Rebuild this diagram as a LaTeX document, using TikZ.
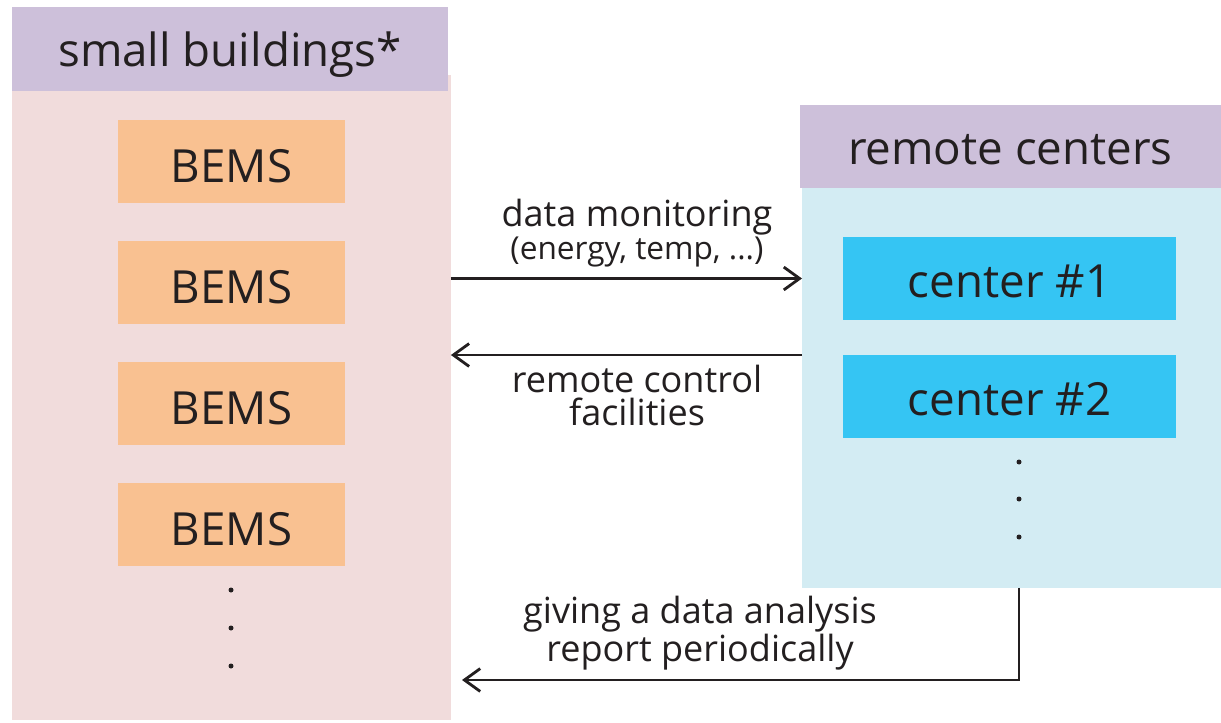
\documentclass[tikz,border=0pt]{standalone}
\usepackage{fontspec}
\setmainfont{Open Sans}
\usetikzlibrary{arrows.meta}

\definecolor{hdrpurple}{RGB}{205,192,218}
\definecolor{bldgpink}{RGB}{241,220,220}
\definecolor{bemsorange}{RGB}{249,193,145}
\definecolor{rcblue}{RGB}{211,236,243}
\definecolor{centercyan}{RGB}{53,197,243}
\definecolor{ink}{RGB}{35,31,32}

\begin{document}
\begin{tikzpicture}[x=0.02cm,y=-0.02cm,text=ink,
    panel/.style={inner sep=0pt,outer sep=0pt,anchor=north west},
    header/.style={panel,fill=hdrpurple,text height=21pt,text depth=0.5pt,font=\fontsize{26}{30}\selectfont},
    unitbox/.style={inner sep=0pt,outer sep=0pt,minimum height=1.66cm,text height=22pt,text depth=0pt,font=\fontsize{26}{30}\selectfont},
    bems/.style={unitbox,fill=bemsorange,minimum width=4.54cm,text height=23.5pt},
    center/.style={unitbox,fill=centercyan,minimum width=6.66cm},
    vdot/.style={circle,fill=ink,inner sep=0pt,minimum size=0.1cm},
    flow/.style={draw=ink,line width=1.6pt,-{Straight Barb[length=9pt,width=13pt,line width=1.6pt]}},
    lbl/.style={inner sep=0pt,align=center,font=\fontsize{20.5}{18.5}\selectfont}]
\useasboundingbox (0,0) rectangle (1221,723);

% small buildings side
\node[panel,fill=bldgpink,minimum width=8.78cm,minimum height=12.9cm] (bldg) at (12,75) {};
\node[header,minimum width=8.72cm,minimum height=1.68cm] (bldghdr) at (12,7) {small buildings*};
\foreach \i/\y in {1/161.5,2/282.5,3/403.5,4/524.5}
  \node[bems] (bems\i) at (231.5,\y) {BEMS};
\foreach \i/\y in {1/590,2/628,3/666}
  \node[vdot] (bdot\i) at (231,\y) {};

% remote centers side
\node[panel,fill=rcblue,minimum width=8.38cm,minimum height=8cm] (rc) at (802,188) {};
\node[header,minimum width=8.42cm,minimum height=1.66cm] (rchdr) at (800,105) {remote centers};
\node[center] (c1) at (1009.5,278.5) {center \#1};
\node[center] (c2) at (1009.5,396.5) {center \#2};
\foreach \i/\y in {1/462,2/499,3/537}
  \node[vdot] (rdot\i) at (1019,\y) {};

% exchanges between the two
\draw[flow] (bldg.east |- c1) -- (rc.west |- c1);
\draw[flow] (rc.west |- c2.north) -- (bldg.east |- c2.north);
\coordinate (rpt) at (462,680);
\draw[flow] (rc.south -| rdot3) |- (rpt);

\node[lbl,anchor=south] (monlbl) at (637,267)
  {data monitoring\\{\fontsize{18}{18}\selectfont(energy, temp, ...)}};
\node[lbl,anchor=north] (ctllbl) at (637,365) {remote control\\facilities};
\node[lbl,anchor=south] (rptlbl) at (700,670) {giving a data analysis\\report periodically};
\end{tikzpicture}
\end{document}
